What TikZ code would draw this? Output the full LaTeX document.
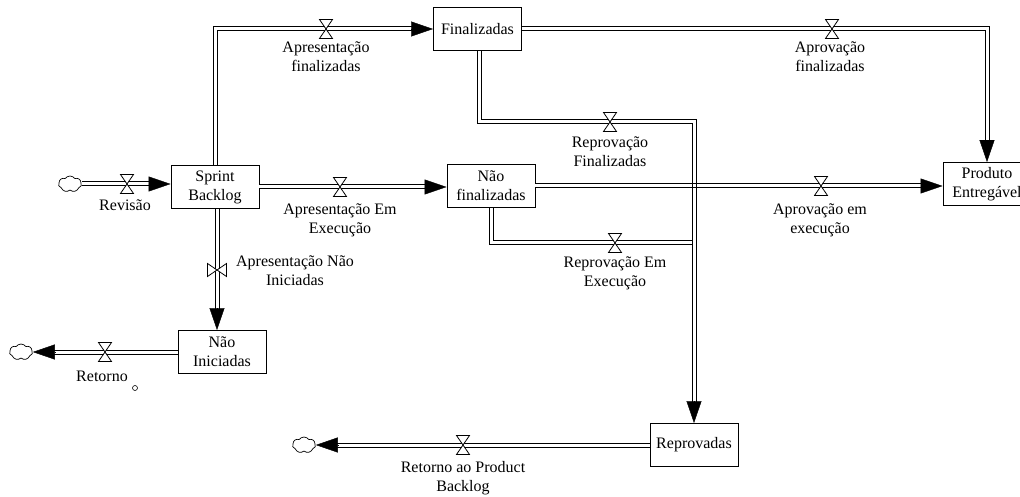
\documentclass[tikz,border=0pt]{standalone}
\usepackage{fontspec}
\setmainfont{Liberation Serif}
\usetikzlibrary{arrows.meta,shapes.symbols,calc}

\tikzset{
  stock/.style={draw, line width=0.9pt, fill=white, minimum width=88pt,
    minimum height=43pt, align=center, inner sep=2pt},
  lbl/.style={align=center, inner sep=0pt},
  % a pipe: a wide black stroke with a white core
  pipe/.style={draw=white, line width=3pt,
    preaction={draw=black, line width=5pt}},
  flowtip/.style={-{Triangle[length=22pt,width=15pt]}, line width=0.4pt},
  sink/.style={cloud, draw, fill=white, cloud puffs=7, cloud puff arc=110,
    aspect=1.4, minimum width=23pt, minimum height=16pt, inner sep=0pt,
    line width=0.7pt},
  rim/.style={line width=1pt},
  valve/.pic={\draw[line width=0.8pt, fill=white]
    (-6.5,-9.5) -- (6.5,-9.5) -- (-6.5,9.5) -- (6.5,9.5) -- cycle;},
}

\begin{document}
\begin{tikzpicture}[x=1pt, y=-1pt, font=\fontsize{16}{19}\selectfont]
\useasboundingbox (0,0) rectangle (1020,497);
\fill[white] (0,0) rectangle (1020,497);
\clip (0,0) rectangle (1020,497);

% stocks
\node[stock] (SB)  at (215,187)   {Sprint\\Backlog};
\node[stock] (FIN) at (477.5,29)  {Finalizadas};
\node[stock] (NF)  at (491,186)   {Não\\finalizadas};
\node[stock] (PE)  at (987,184)   {Produto\\Entregável};
\node[stock] (NI)  at (222,352)   {Não\\Iniciadas};
\node[stock] (REP) at (694,445)   {Reprovadas};

% sources and sinks
\node[sink] (c1) at (70,184)  {};
\node[sink] (c2) at (21,352)  {};
\node[sink] (c3) at (304,445) {};

% valve positions
\coordinate (v1)  at (127,184);
\coordinate (v2)  at (326,29);
\coordinate (v3)  at (340,187);
\coordinate (v4)  at (217,270);
\coordinate (v5)  at (105,352);
\coordinate (v6)  at (832,29);
\coordinate (v7)  at (610,122);
\coordinate (v8)  at (821,186);
\coordinate (v9)  at (615,243);
\coordinate (v10) at (463,445);

% pipe corners and ends
\coordinate (k1) at (479,122);
\coordinate (k2) at (491,243);
\coordinate (a1) at (c1.east -| SB.west);
\coordinate (a2c) at (SB.north |- FIN.west);
\coordinate (a3) at (SB.east -| NF.west);
\coordinate (a4s) at (SB.south -| v4);
\coordinate (a4) at (NI.north -| v4);
\coordinate (a5) at (NI.west -| c2.east);
\coordinate (a6c) at (FIN.east -| PE.north);
\coordinate (a7s) at (FIN.south -| k1);
\coordinate (a7c) at (k1 -| REP.north);
\coordinate (a8) at (NF.east -| PE.west);
\coordinate (a9s) at (NF.south -| k2);
\coordinate (a9) at (k2 -| REP.north);
\coordinate (a10) at (REP.west -| c3.east);

% flows
\draw[pipe] (c1.east) -- ($(a1)!12pt!(c1.east)$);
\draw[flowtip] ($(a1)!22pt!(c1.east)$) -- (a1);

\draw[pipe] (SB.north) -- (a2c) -- ($(FIN.west)!12pt!(a2c)$);
\draw[flowtip] ($(FIN.west)!22pt!(a2c)$) -- (FIN.west);

\draw[pipe] (SB.east) -- ($(a3)!12pt!(SB.east)$);
\draw[flowtip] ($(a3)!22pt!(SB.east)$) -- (a3);

\draw[pipe] (a4s) -- ($(a4)!12pt!(a4s)$);
\draw[flowtip] ($(a4)!22pt!(a4s)$) -- (a4);

\draw[pipe] (NI.west) -- ($(a5)!12pt!(NI.west)$);
\draw[flowtip] ($(a5)!22pt!(NI.west)$) -- (a5);

\draw[pipe] (FIN.east) -- (a6c) -- ($(PE.north)!12pt!(a6c)$);
\draw[flowtip] ($(PE.north)!22pt!(a6c)$) -- (PE.north);

\draw[pipe] (a9s) -- (k2) -- (a9);

\draw[pipe] (a7s) -- (k1) -- (a7c) -- ($(REP.north)!12pt!(a7c)$);
\draw[flowtip] ($(REP.north)!22pt!(a7c)$) -- (REP.north);

\draw[pipe] (NF.east) -- ($(a8)!12pt!(NF.east)$);
\draw[flowtip] ($(a8)!22pt!(NF.east)$) -- (a8);

\draw[pipe] (REP.west) -- ($(a10)!12pt!(REP.west)$);
\draw[flowtip] ($(a10)!22pt!(REP.west)$) -- (a10);

% the vertical pipe stays visible where the two pipes cross
\coordinate (X) at (REP.north |- NF.east);
\draw[rim] ([xshift=-2pt,yshift=-4pt]X) -- ([xshift=-2pt,yshift=4pt]X);
\draw[rim] ([xshift=2pt,yshift=-4pt]X) -- ([xshift=2pt,yshift=4pt]X);

% valves
\pic at (v1) {valve};
\pic at (v2) {valve};
\pic at (v3) {valve};
\pic[rotate=90] at (v4) {valve};
\pic at (v5) {valve};
\pic at (v6) {valve};
\pic at (v7) {valve};
\pic at (v8) {valve};
\pic at (v9) {valve};
\pic at (v10) {valve};

% flow labels
\node[lbl] (l1)  at (125,205) {Revisão};
\node[lbl] (l2)  at (326,57)  {Apresentação\\finalizadas};
\node[lbl] (l3)  at (340,220) {Apresentação Em\\Execução};
\node[lbl] (l4)  at (295,271) {Apresentação Não\\Iniciadas};
\node[lbl] (l5)  at (102,376) {Retorno};
\node[lbl] (l6)  at (830,57)  {Aprovação\\finalizadas};
\node[lbl] (l7)  at (610,152) {Reprovação\\Finalizadas};
\node[lbl] (l8)  at (820,220) {Aprovação em\\execução};
\node[lbl] (l9)  at (615,273) {Reprovação Em\\Execução};
\node[lbl] (l10) at (463,478) {Retorno ao Product\\Backlog};

\node[circle, draw, line width=0.6pt, minimum size=5pt, inner sep=0pt] (o1) at (135,388) {};
\end{tikzpicture}
\end{document}
